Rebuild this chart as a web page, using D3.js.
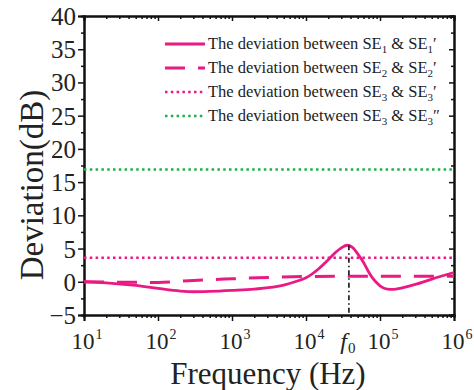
<!DOCTYPE html>
<html>
<head>
<meta charset="utf-8">
<script src="https://cdn.jsdelivr.net/npm/d3@7"></script>
<style>
  body { margin: 0; background: #fff; }
  svg text { font-family: "Liberation Serif", "Times New Roman", serif; fill: #222; }
</style>
</head>
<body>
<svg id="chart"></svg>
<script>
// frequency (Hz) and deviation (dB)
var solidFreq = [10, 20, 50, 100, 200, 300, 500, 1000, 2000, 5000, 8000, 10000, 15000, 20000, 25000, 30000, 36000, 42000, 50000, 60000, 70000, 80000, 100000, 125000, 150000, 200000, 300000, 500000, 1000000];
var solidDev  = [0, -0.15, -0.55, -1.0, -1.4, -1.5, -1.45, -1.3, -1.1, -0.5, 0.2, 0.6, 2.0, 3.3, 4.4, 5.1, 5.5, 5.2, 4.2, 2.9, 1.5, 0.5, -0.6, -1.1, -1.15, -0.9, -0.4, 0.4, 1.4];
var dashFreq = [10, 100, 300, 1000, 3000, 10000, 100000, 1000000];
var dashDev  = [0, -0.1, 0.2, 0.45, 0.65, 0.8, 0.85, 0.85];
var se3Dev = 3.6;      // SE3 & SE3'
var se3bDev = 16.9;    // SE3 & SE3''
var f0 = 38000;
var f0Dev = 5.5;

var yTicks = [-5, 0, 5, 10, 15, 20, 25, 30, 35, 40];
var xTicks = [1, 2, 3, 4, 5, 6]; // exponents
var legendLabels = [
  { sub: "1", prime: "\u2032" },
  { sub: "2", prime: "\u2032" },
  { sub: "3", prime: "\u2032" },
  { sub: "3", prime: "\u2033" }
];

var W = 474, H = 390;
var plot = { left: 84, right: 454, top: 16, bottom: 315 };
var pink = "#ea1a84", green = "#1fb04a";
var serif = "'Liberation Serif', 'Times New Roman', serif";

var svg = d3.select("#chart").attr("width", W).attr("height", H);

var x = d3.scaleLog().domain([10, 1e6]).range([plot.left, plot.right]);
var y = d3.scaleLinear().domain([-5, 40]).range([plot.bottom, plot.top]);

var majorX = xTicks.map(e => Math.pow(10, e));
var minorX = [];
for (var e = 1; e < 6; e++) for (var k = 2; k < 10; k++) minorX.push(k * Math.pow(10, e));
var minorY = yTicks.slice(0, -1).map(v => v + 2.5);

function styleAxis(g) {
  g.attr("font-family", serif);
  g.select(".domain").attr("stroke", "#111").attr("stroke-width", 2);
  g.selectAll(".tick line").attr("stroke", "#111").attr("stroke-width", 1.5);
}

// bottom
svg.append("g").attr("transform", `translate(0,${plot.bottom})`)
   .call(d3.axisBottom(x).tickValues(majorX).tickSize(6).tickFormat(""))
   .call(styleAxis);
svg.append("g").attr("transform", `translate(0,${plot.bottom})`)
   .call(d3.axisBottom(x).tickValues(minorX).tickSize(3).tickFormat(""))
   .call(styleAxis);
// top
svg.append("g").attr("transform", `translate(0,${plot.top})`)
   .call(d3.axisTop(x).tickValues(majorX).tickSize(-5).tickFormat(""))
   .call(styleAxis);
svg.append("g").attr("transform", `translate(0,${plot.top})`)
   .call(d3.axisTop(x).tickValues(minorX).tickSize(-3).tickFormat(""))
   .call(styleAxis);
// left
svg.append("g").attr("transform", `translate(${plot.left},0)`)
   .call(d3.axisLeft(y).tickValues(yTicks).tickSize(6).tickPadding(2))
   .call(styleAxis)
   .selectAll("text").style("font-size", "25px").attr("dy", "0.34em");
svg.append("g").attr("transform", `translate(${plot.left},0)`)
   .call(d3.axisLeft(y).tickValues(minorY).tickSize(3).tickFormat(""))
   .call(styleAxis);
// right
svg.append("g").attr("transform", `translate(${plot.right},0)`)
   .call(d3.axisRight(y).tickValues(yTicks).tickSize(-5).tickFormat(""))
   .call(styleAxis);
svg.append("g").attr("transform", `translate(${plot.right},0)`)
   .call(d3.axisRight(y).tickValues(minorY).tickSize(-3).tickFormat(""))
   .call(styleAxis);

// x tick labels 10^n
var xl = svg.append("g").selectAll("text").data(xTicks).enter().append("text")
   .attr("x", d => x(Math.pow(10, d)) + 3)
   .attr("y", 349)
   .attr("text-anchor", "middle")
   .style("font-size", "23px");
xl.append("tspan").text("10");
xl.append("tspan").attr("dx", 1).attr("dy", -10).style("font-size", "14px").text(d => d);

// f0 label
var f0t = svg.append("text").attr("x", x(f0) - 1).attr("y", 349).attr("text-anchor", "middle").style("font-size", "24px");
f0t.append("tspan").style("font-style", "italic").text("f");
f0t.append("tspan").attr("dx", 1).attr("dy", 4).style("font-size", "15px").text("0");

// axis titles
svg.append("text").attr("x", 268).attr("y", 384).attr("text-anchor", "middle")
   .style("font-size", "31px").text("Frequency (Hz)");
svg.append("text").attr("transform", `translate(43,${185}) rotate(-90)`)
   .attr("text-anchor", "middle").style("font-size", "33px").text("Deviation(dB)");

// lines
var line = d3.line().x(d => x(d[0])).y(d => y(d[1])).curve(d3.curveMonotoneX);
var plotG = svg.append("g");

plotG.append("line").attr("x1", x(10)).attr("x2", x(1e6)).attr("y1", y(se3bDev)).attr("y2", y(se3bDev))
   .attr("stroke", green).attr("stroke-width", 2.5).attr("stroke-dasharray", "2.5,3.3");
plotG.append("line").attr("x1", x(10)).attr("x2", x(1e6)).attr("y1", y(se3Dev)).attr("y2", y(se3Dev))
   .attr("stroke", pink).attr("stroke-width", 2.5).attr("stroke-dasharray", "2.5,3.3");
plotG.append("path").datum(d3.zip(dashFreq, dashDev)).attr("d", line)
   .attr("fill", "none").attr("stroke", pink).attr("stroke-width", 3).attr("stroke-dasharray", "20,13");
plotG.append("path").datum(d3.zip(solidFreq, solidDev)).attr("d", line)
   .attr("fill", "none").attr("stroke", pink).attr("stroke-width", 2.8);
plotG.append("line").attr("x1", x(f0)).attr("x2", x(f0)).attr("y1", y(f0Dev)).attr("y2", plot.bottom)
   .attr("stroke", "#111").attr("stroke-width", 1.6).attr("stroke-dasharray", "5,3,1.5,3");

// legend
var legendStyles = [
  { color: pink, dash: null, w: 2.8 },
  { color: pink, dash: "20,13", w: 3 },
  { color: pink, dash: "2.5,3.3", w: 2.5 },
  { color: green, dash: "2.5,3.3", w: 2.5 }
];
var lg = svg.append("g").selectAll("g").data(legendLabels).enter().append("g")
   .attr("transform", (d, i) => `translate(165,${44 + i * 24})`);
lg.append("line").attr("x1", 0).attr("x2", 40).attr("y1", 0).attr("y2", 0)
   .attr("stroke", (d, i) => legendStyles[i].color)
   .attr("stroke-width", (d, i) => legendStyles[i].w)
   .attr("stroke-dasharray", (d, i) => legendStyles[i].dash);
var lt = lg.append("text").attr("x", 43).attr("y", 5).style("font-size", "16.5px");
lt.append("tspan").text("The deviation between SE");
lt.append("tspan").attr("dy", 4).style("font-size", "11px").text(d => d.sub);
lt.append("tspan").attr("dy", -4).text(" & SE");
lt.append("tspan").attr("dy", 4).style("font-size", "11px").text(d => d.sub);
lt.append("tspan").attr("dy", -4).text(d => d.prime);
</script>
</body>
</html>
